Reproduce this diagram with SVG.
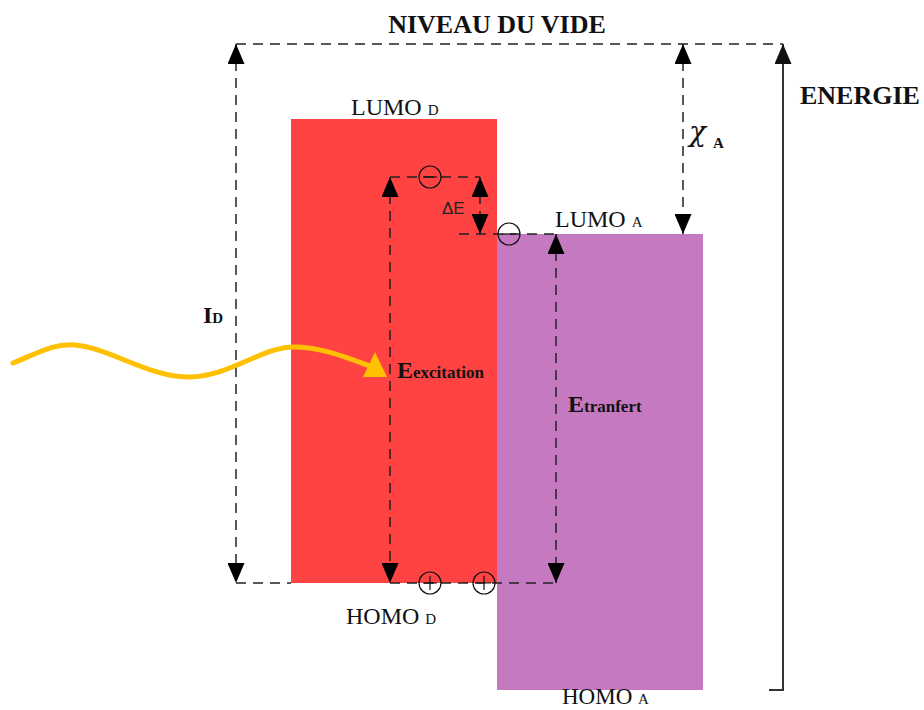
<svg xmlns="http://www.w3.org/2000/svg" width="924" height="710" viewBox="0 0 924 710">
<style>
.serif{font-family:"Liberation Serif","Times New Roman",serif;fill:#111}
.b{font-weight:bold}
.dash{fill:none;stroke:#222;stroke-width:1.5;stroke-dasharray:10 7}
.arr{marker-start:url(#ah);marker-end:url(#ah)}
.charge{fill:none;stroke:#111;stroke-width:1.2}
</style>
<defs>
<marker id="ah" viewBox="0 0 20 17" refX="20" refY="8.5" markerWidth="20" markerHeight="17" markerUnits="userSpaceOnUse" orient="auto-start-reverse">
<path d="M0,0 L20,8.5 L0,17 z" fill="#000"/>
</marker>
<marker id="ahg" viewBox="0 0 20 17" refX="20" refY="8.5" markerWidth="20" markerHeight="17" markerUnits="userSpaceOnUse" orient="auto">
<path d="M0,0 L20,8.5 L0,17 z" fill="#111"/>
</marker>
</defs>
<rect width="924" height="710" fill="#fff"/>

<g id="donor">
<rect x="291" y="119" width="206" height="464" fill="#FF4343"/>
<text class="serif" x="351" y="115" font-size="24">LUMO <tspan font-size="15">D</tspan></text>
<text class="serif" x="346" y="624" font-size="24">HOMO <tspan font-size="15">D</tspan></text>
</g>

<g id="acceptor">
<rect x="497" y="234" width="206" height="456" fill="#C479C1"/>
<text class="serif" x="555" y="227" font-size="24">LUMO <tspan font-size="15">A</tspan></text>
<text class="serif" x="562" y="704" font-size="23">HOMO <tspan font-size="15">A</tspan></text>
</g>

<g id="vacuum-level">
<text class="serif b" x="497" y="33" font-size="26" text-anchor="middle">NIVEAU DU VIDE</text>
</g>

<g id="energy-axis">
<text class="serif b" x="800" y="104" font-size="26">ENERGIE</text>
</g>

<g id="connectors">
<path class="dash" d="M236,44 H783"/>
<path class="dash arr" d="M236,44 V583"/>
<path class="dash" d="M236,583 H291"/>
<path class="dash arr" d="M683,44 V234"/>
<path d="M769,690 H783 V44" fill="none" stroke="#333" stroke-width="2" marker-end="url(#ahg)"/>
<path class="dash arr" d="M390,177 V583"/>
<path class="dash" d="M390,177 H480"/>
<path class="dash arr" d="M480,177 V234"/>
<path class="dash" d="M459,234 H556"/>
<path class="dash arr" d="M556,234 V583"/>
<path class="dash" d="M390,583 H556"/>
<path d="M13,363 C40,352 55,343 75,345 C110,348 150,378 190,377 C230,376 262,347 294,347 C320,347 345,357 370,366" fill="none" stroke="#FFC000" stroke-width="5" stroke-linecap="round"/>
<polygon points="375,352 387,377 363,377" fill="#FFC000"/>
</g>

<g id="charges">
<circle class="charge" cx="430" cy="177" r="11"/>
<path class="charge" d="M423,177 H437"/>
<circle class="charge" cx="509" cy="234" r="11"/>
<path class="charge" d="M502,234 H516"/>
<circle class="charge" cx="430" cy="583" r="11"/>
<path class="charge" d="M423,583 H437 M430,576 V590"/>
<circle class="charge" cx="484" cy="583" r="11"/>
<path class="charge" d="M477,583 H491 M484,576 V590"/>
</g>

<g id="labels">
<text class="serif b" x="203" y="323" font-size="24">I<tspan font-size="15">D</tspan></text>
<text class="serif b" x="397" y="378" font-size="24">E<tspan font-size="17">excitation</tspan></text>
<text class="serif b" x="568" y="412" font-size="24">E<tspan font-size="17">tranfert</tspan></text>
<text x="442" y="214" font-size="17" font-family="Liberation Sans, Arial, sans-serif" fill="#222">ΔE</text>
<text x="689" y="141" font-size="28" font-family="DejaVu Serif, serif" font-style="italic" fill="#111">χ</text>
<text class="serif b" x="713" y="148" font-size="15">A</text>
</g>
</svg>
